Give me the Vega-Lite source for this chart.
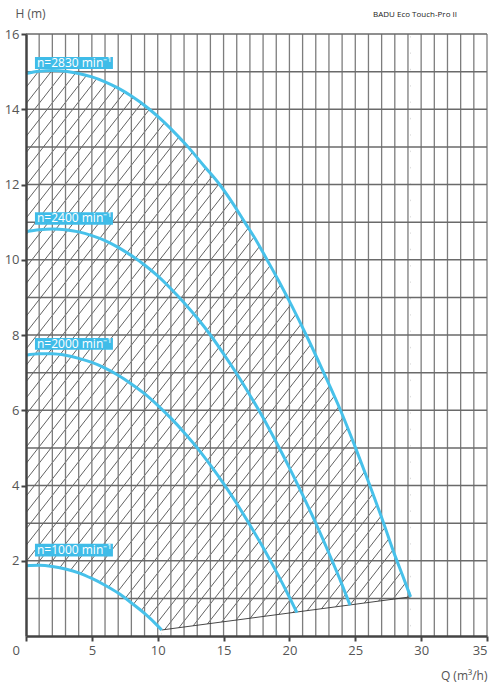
{
  "$schema": "https://vega.github.io/schema/vega-lite/v6.json",
  "description": "Pump curves BADU Eco Touch-Pro II, H over Q for four speeds with hatched operating range.",
  "autosize": "none",
  "width": 461,
  "height": 602,
  "padding": {"left": 26, "top": 34, "right": 9, "bottom": 51},
  "background": "white",
  "title": {
    "text": "BADU Eco Touch-Pro II",
    "anchor": "end",
    "font": "Open Sans",
    "fontSize": 8,
    "fontWeight": "normal",
    "color": "#222",
    "dx": -31,
    "offset": 0,
    "dy": 12
  },
  "config": {"view": {"stroke": null}},
  "datasets": {
    "curves": [
      {"speed": "2830", "q": 0, "h": 14.95}, {"speed": "2830", "q": 1, "h": 15.01}, {"speed": "2830", "q": 2, "h": 15.03},
      {"speed": "2830", "q": 3, "h": 15.01}, {"speed": "2830", "q": 4, "h": 14.95}, {"speed": "2830", "q": 5, "h": 14.86},
      {"speed": "2830", "q": 6, "h": 14.73}, {"speed": "2830", "q": 7, "h": 14.56}, {"speed": "2830", "q": 8, "h": 14.35},
      {"speed": "2830", "q": 9.3, "h": 14.02}, {"speed": "2830", "q": 10.5, "h": 13.65}, {"speed": "2830", "q": 11.5, "h": 13.3},
      {"speed": "2830", "q": 12.3, "h": 13.0}, {"speed": "2830", "q": 13.5, "h": 12.5}, {"speed": "2830", "q": 14.7, "h": 12.0},
      {"speed": "2830", "q": 15.7, "h": 11.5}, {"speed": "2830", "q": 16.6, "h": 11.0}, {"speed": "2830", "q": 17.5, "h": 10.5},
      {"speed": "2830", "q": 18.3, "h": 10.0}, {"speed": "2830", "q": 19.2, "h": 9.43}, {"speed": "2830", "q": 20.2, "h": 8.76},
      {"speed": "2830", "q": 21.3, "h": 7.98}, {"speed": "2830", "q": 22.6, "h": 7.0}, {"speed": "2830", "q": 23.9, "h": 5.98},
      {"speed": "2830", "q": 25.0, "h": 5.02}, {"speed": "2830", "q": 26.0, "h": 4.1}, {"speed": "2830", "q": 27.0, "h": 3.15},
      {"speed": "2830", "q": 28.0, "h": 2.15}, {"speed": "2830", "q": 28.6, "h": 1.6}, {"speed": "2830", "q": 29.2, "h": 1.04},
      {"speed": "2400", "q": 0, "h": 10.75}, {"speed": "2400", "q": 1, "h": 10.8}, {"speed": "2400", "q": 2, "h": 10.82},
      {"speed": "2400", "q": 3, "h": 10.8}, {"speed": "2400", "q": 4, "h": 10.74}, {"speed": "2400", "q": 5, "h": 10.64},
      {"speed": "2400", "q": 6, "h": 10.51}, {"speed": "2400", "q": 7, "h": 10.33}, {"speed": "2400", "q": 8, "h": 10.11},
      {"speed": "2400", "q": 9, "h": 9.86}, {"speed": "2400", "q": 10, "h": 9.57}, {"speed": "2400", "q": 11, "h": 9.23},
      {"speed": "2400", "q": 12, "h": 8.86}, {"speed": "2400", "q": 13, "h": 8.45}, {"speed": "2400", "q": 14, "h": 8.0},
      {"speed": "2400", "q": 15, "h": 7.5}, {"speed": "2400", "q": 16, "h": 6.97}, {"speed": "2400", "q": 17, "h": 6.4},
      {"speed": "2400", "q": 18, "h": 5.8}, {"speed": "2400", "q": 19, "h": 5.15}, {"speed": "2400", "q": 20, "h": 4.47},
      {"speed": "2400", "q": 21, "h": 3.75}, {"speed": "2400", "q": 22, "h": 3.0}, {"speed": "2400", "q": 23, "h": 2.2},
      {"speed": "2400", "q": 24, "h": 1.36}, {"speed": "2400", "q": 24.6, "h": 0.82},
      {"speed": "2000", "q": 0, "h": 7.46}, {"speed": "2000", "q": 1, "h": 7.5}, {"speed": "2000", "q": 2, "h": 7.5},
      {"speed": "2000", "q": 3, "h": 7.46}, {"speed": "2000", "q": 4, "h": 7.38}, {"speed": "2000", "q": 5, "h": 7.27},
      {"speed": "2000", "q": 6, "h": 7.12}, {"speed": "2000", "q": 7, "h": 6.93}, {"speed": "2000", "q": 8, "h": 6.7},
      {"speed": "2000", "q": 9, "h": 6.44}, {"speed": "2000", "q": 10, "h": 6.13}, {"speed": "2000", "q": 11, "h": 5.79},
      {"speed": "2000", "q": 12, "h": 5.41}, {"speed": "2000", "q": 13, "h": 5.0}, {"speed": "2000", "q": 14, "h": 4.54},
      {"speed": "2000", "q": 15, "h": 4.05}, {"speed": "2000", "q": 16, "h": 3.52}, {"speed": "2000", "q": 17, "h": 2.95},
      {"speed": "2000", "q": 18, "h": 2.35}, {"speed": "2000", "q": 19, "h": 1.71}, {"speed": "2000", "q": 20, "h": 1.03},
      {"speed": "2000", "q": 20.57, "h": 0.62},
      {"speed": "1000", "q": 0, "h": 1.87}, {"speed": "1000", "q": 1, "h": 1.88}, {"speed": "1000", "q": 2, "h": 1.85},
      {"speed": "1000", "q": 3, "h": 1.78}, {"speed": "1000", "q": 4, "h": 1.68}, {"speed": "1000", "q": 5, "h": 1.53},
      {"speed": "1000", "q": 6, "h": 1.35}, {"speed": "1000", "q": 7, "h": 1.14}, {"speed": "1000", "q": 8, "h": 0.88},
      {"speed": "1000", "q": 9, "h": 0.6}, {"speed": "1000", "q": 10, "h": 0.27}, {"speed": "1000", "q": 10.3, "h": 0.16}
    ],
    "edge": [
      {"q": 10.3, "h": 0.16},
      {"q": 29.2, "h": 1.04}
    ],
    "labels": [
      {"text": "n=2830 min⁻¹", "q": 0.68, "q2": 6.6, "h": 15.07, "h2": 15.39, "hm": 15.23},
      {"text": "n=2400 min⁻¹", "q": 0.68, "q2": 6.6, "h": 10.93, "h2": 11.26, "hm": 11.1},
      {"text": "n=2000 min⁻¹", "q": 0.68, "q2": 6.6, "h": 7.61, "h2": 7.92, "hm": 7.77},
      {"text": "n=1000 min⁻¹", "q": 0.68, "q2": 6.6, "h": 2.11, "h2": 2.45, "hm": 2.28}
    ],
    "gridv": [
      {"q": 1, "h": 0, "q2": 1, "h2": 16}, {"q": 2, "h": 0, "q2": 2, "h2": 16}, {"q": 3, "h": 0, "q2": 3, "h2": 16},
      {"q": 4, "h": 0, "q2": 4, "h2": 16}, {"q": 5, "h": 0, "q2": 5, "h2": 16}, {"q": 6, "h": 0, "q2": 6, "h2": 16},
      {"q": 7, "h": 0, "q2": 7, "h2": 16}, {"q": 8, "h": 0, "q2": 8, "h2": 16}, {"q": 9, "h": 0, "q2": 9, "h2": 16},
      {"q": 10, "h": 0, "q2": 10, "h2": 16}, {"q": 11, "h": 0, "q2": 11, "h2": 16}, {"q": 12, "h": 0, "q2": 12, "h2": 16},
      {"q": 13, "h": 0, "q2": 13, "h2": 16}, {"q": 14, "h": 0, "q2": 14, "h2": 16}, {"q": 15, "h": 0, "q2": 15, "h2": 16},
      {"q": 16, "h": 0, "q2": 16, "h2": 16}, {"q": 17, "h": 0, "q2": 17, "h2": 16}, {"q": 18, "h": 0, "q2": 18, "h2": 16},
      {"q": 19, "h": 0, "q2": 19, "h2": 16}, {"q": 20, "h": 0, "q2": 20, "h2": 16}, {"q": 21, "h": 0, "q2": 21, "h2": 16},
      {"q": 22, "h": 0, "q2": 22, "h2": 16}, {"q": 23, "h": 0, "q2": 23, "h2": 16}, {"q": 24, "h": 0, "q2": 24, "h2": 16},
      {"q": 25, "h": 0, "q2": 25, "h2": 16}, {"q": 26, "h": 0, "q2": 26, "h2": 16}, {"q": 27, "h": 0, "q2": 27, "h2": 16},
      {"q": 28, "h": 0, "q2": 28, "h2": 16}, {"q": 29, "h": 0, "q2": 29, "h2": 16}, {"q": 30, "h": 0, "q2": 30, "h2": 16},
      {"q": 31, "h": 0, "q2": 31, "h2": 16}, {"q": 32, "h": 0, "q2": 32, "h2": 16}, {"q": 33, "h": 0, "q2": 33, "h2": 16},
      {"q": 34, "h": 0, "q2": 34, "h2": 16}, {"q": 35, "h": 0, "q2": 35, "h2": 16}
    ],
    "gridh": [
      {"q": 0, "h": 1, "q2": 35, "h2": 1}, {"q": 0, "h": 2, "q2": 35, "h2": 2}, {"q": 0, "h": 3, "q2": 35, "h2": 3},
      {"q": 0, "h": 4, "q2": 35, "h2": 4}, {"q": 0, "h": 5, "q2": 35, "h2": 5}, {"q": 0, "h": 6, "q2": 35, "h2": 6},
      {"q": 0, "h": 7, "q2": 35, "h2": 7}, {"q": 0, "h": 8, "q2": 35, "h2": 8}, {"q": 0, "h": 9, "q2": 35, "h2": 9},
      {"q": 0, "h": 10, "q2": 35, "h2": 10}, {"q": 0, "h": 11, "q2": 35, "h2": 11}, {"q": 0, "h": 12, "q2": 35, "h2": 12},
      {"q": 0, "h": 13, "q2": 35, "h2": 13}, {"q": 0, "h": 14, "q2": 35, "h2": 14}, {"q": 0, "h": 15, "q2": 35, "h2": 15},
      {"q": 0, "h": 16, "q2": 35, "h2": 16}
    ],
    "hatch": [
      {"q": -33.5, "h": 0, "q2": 2.2, "h2": 16}, {"q": -32.53, "h": 0, "q2": 3.17, "h2": 16}, {"q": -31.56, "h": 0, "q2": 4.14, "h2": 16},
      {"q": -30.59, "h": 0, "q2": 5.11, "h2": 16}, {"q": -29.62, "h": 0, "q2": 6.08, "h2": 16}, {"q": -28.65, "h": 0, "q2": 7.05, "h2": 16},
      {"q": -27.68, "h": 0, "q2": 8.02, "h2": 16}, {"q": -26.71, "h": 0, "q2": 8.99, "h2": 16}, {"q": -25.74, "h": 0, "q2": 9.96, "h2": 16},
      {"q": -24.77, "h": 0, "q2": 10.93, "h2": 16}, {"q": -23.8, "h": 0, "q2": 11.9, "h2": 16}, {"q": -22.83, "h": 0, "q2": 12.87, "h2": 16},
      {"q": -21.86, "h": 0, "q2": 13.84, "h2": 16}, {"q": -20.89, "h": 0, "q2": 14.81, "h2": 16}, {"q": -19.92, "h": 0, "q2": 15.78, "h2": 16},
      {"q": -18.95, "h": 0, "q2": 16.75, "h2": 16}, {"q": -17.98, "h": 0, "q2": 17.72, "h2": 16}, {"q": -17.01, "h": 0, "q2": 18.69, "h2": 16},
      {"q": -16.04, "h": 0, "q2": 19.66, "h2": 16}, {"q": -15.07, "h": 0, "q2": 20.63, "h2": 16}, {"q": -14.1, "h": 0, "q2": 21.6, "h2": 16},
      {"q": -13.13, "h": 0, "q2": 22.57, "h2": 16}, {"q": -12.16, "h": 0, "q2": 23.54, "h2": 16}, {"q": -11.19, "h": 0, "q2": 24.51, "h2": 16},
      {"q": -10.22, "h": 0, "q2": 25.48, "h2": 16}, {"q": -9.25, "h": 0, "q2": 26.45, "h2": 16}, {"q": -8.28, "h": 0, "q2": 27.42, "h2": 16},
      {"q": -7.31, "h": 0, "q2": 28.39, "h2": 16}, {"q": -6.34, "h": 0, "q2": 29.36, "h2": 16}, {"q": -5.37, "h": 0, "q2": 30.33, "h2": 16},
      {"q": -4.4, "h": 0, "q2": 31.3, "h2": 16}, {"q": -3.43, "h": 0, "q2": 32.27, "h2": 16}, {"q": -2.46, "h": 0, "q2": 33.24, "h2": 16},
      {"q": -1.49, "h": 0, "q2": 34.21, "h2": 16}, {"q": -0.52, "h": 0, "q2": 35.18, "h2": 16}, {"q": 0.45, "h": 0, "q2": 36.15, "h2": 16},
      {"q": 1.42, "h": 0, "q2": 37.12, "h2": 16}, {"q": 2.39, "h": 0, "q2": 38.09, "h2": 16}, {"q": 3.36, "h": 0, "q2": 39.06, "h2": 16},
      {"q": 4.33, "h": 0, "q2": 40.03, "h2": 16}, {"q": 5.3, "h": 0, "q2": 41.0, "h2": 16}, {"q": 6.27, "h": 0, "q2": 41.97, "h2": 16},
      {"q": 7.24, "h": 0, "q2": 42.94, "h2": 16}, {"q": 8.21, "h": 0, "q2": 43.91, "h2": 16}, {"q": 9.18, "h": 0, "q2": 44.88, "h2": 16},
      {"q": 10.15, "h": 0, "q2": 45.85, "h2": 16}, {"q": 11.12, "h": 0, "q2": 46.82, "h2": 16}, {"q": 12.09, "h": 0, "q2": 47.79, "h2": 16},
      {"q": 13.06, "h": 0, "q2": 48.76, "h2": 16}, {"q": 14.03, "h": 0, "q2": 49.73, "h2": 16}, {"q": 15.0, "h": 0, "q2": 50.7, "h2": 16},
      {"q": 15.97, "h": 0, "q2": 51.67, "h2": 16}, {"q": 16.94, "h": 0, "q2": 52.64, "h2": 16}, {"q": 17.91, "h": 0, "q2": 53.61, "h2": 16},
      {"q": 18.88, "h": 0, "q2": 54.58, "h2": 16}, {"q": 19.85, "h": 0, "q2": 55.55, "h2": 16}, {"q": 20.82, "h": 0, "q2": 56.52, "h2": 16},
      {"q": 21.79, "h": 0, "q2": 57.49, "h2": 16}, {"q": 22.76, "h": 0, "q2": 58.46, "h2": 16}, {"q": 23.73, "h": 0, "q2": 59.43, "h2": 16},
      {"q": 24.7, "h": 0, "q2": 60.4, "h2": 16}, {"q": 25.67, "h": 0, "q2": 61.37, "h2": 16}, {"q": 26.64, "h": 0, "q2": 62.34, "h2": 16},
      {"q": 27.61, "h": 0, "q2": 63.31, "h2": 16}, {"q": 28.58, "h": 0, "q2": 64.28, "h2": 16}
    ]
  },
  "encoding": {
    "x": {
      "field": "q",
      "type": "quantitative",
      "scale": {"domain": [0, 35], "nice": false, "zero": false},
      "axis": {
        "values": [0, 5, 10, 15, 20, 25, 30, 35],
        "grid": false,
        "zindex": 1,
        "domainColor": "#444",
        "domainWidth": 2.5,
        "tickColor": "#444",
        "tickWidth": 2,
        "tickSize": 5,
        "labelFont": "Open Sans",
        "labelFontSize": 13,
        "labelColor": "#555",
        "labelPadding": 3,
        "labelOffset": {"condition": {"test": "datum.value === 0", "value": -14}, "value": 0},
        "title": "Q (m³/h)",
        "titleFont": "Open Sans",
        "titleFontSize": 12,
        "titleFontWeight": "normal",
        "titleColor": "#555",
        "titleAngle": 0,
        "titleAlign": "right",
        "titleBaseline": "middle",
        "titleX": 461,
        "titleY": 39
      }
    },
    "y": {
      "field": "h",
      "type": "quantitative",
      "scale": {"domain": [0, 16], "nice": false, "zero": false},
      "axis": {
        "values": [2, 4, 6, 8, 10, 12, 14, 16],
        "grid": false,
        "zindex": 1,
        "domainColor": "#444",
        "domainWidth": 2.5,
        "tickColor": "#444",
        "tickWidth": 2,
        "tickSize": 5,
        "labelFont": "Open Sans",
        "labelFontSize": 13,
        "labelColor": "#555",
        "labelPadding": 2,
        "title": "H (m)",
        "titleFont": "Open Sans",
        "titleFontSize": 12,
        "titleFontWeight": "normal",
        "titleColor": "#555",
        "titleAngle": 0,
        "titleAlign": "left",
        "titleBaseline": "middle",
        "titleX": -11,
        "titleY": -21
      }
    }
  },
  "layer": [
    {
      "data": {"name": "hatch"},
      "mark": {"type": "rule", "clip": true, "stroke": "#3a3a3a", "strokeWidth": 0.8},
      "encoding": {"x2": {"field": "q2"}, "y2": {"field": "h2"}}
    },
    {
      "data": {"name": "curves"},
      "transform": [{"filter": "datum.speed == '2830'"}],
      "mark": {"type": "area", "fill": "white", "interpolate": "monotone"},
      "encoding": {"y2": {"datum": 16}}
    },
    {
      "data": {"name": "edge"},
      "transform": [{"filter": "datum.q > 20"}],
      "mark": {"type": "rect", "fill": "white"},
      "encoding": {"x2": {"datum": 35}, "y": {"datum": 0}, "y2": {"datum": 16}}
    },
    {
      "data": {"name": "curves"},
      "transform": [{"filter": "datum.speed == '1000'"}],
      "mark": {"type": "area", "fill": "white", "interpolate": "monotone"},
      "encoding": {"y2": {"datum": 0}}
    },
    {
      "data": {"name": "edge"},
      "mark": {"type": "area", "fill": "white"},
      "encoding": {"y2": {"datum": 0}}
    },
    {
      "data": {"name": "gridv"},
      "mark": {"type": "rule", "stroke": "#7d7d7d", "strokeWidth": 1.3},
      "encoding": {"x2": {"field": "q2"}, "y2": {"field": "h2"}}
    },
    {
      "data": {"name": "gridh"},
      "mark": {"type": "rule", "stroke": "#6a6a6a", "strokeWidth": 1.5},
      "encoding": {"x2": {"field": "q2"}, "y2": {"field": "h2"}}
    },
    {
      "data": {"name": "edge"},
      "mark": {"type": "line", "stroke": "#333", "strokeWidth": 0.9},
      "encoding": {}
    },
    {
      "data": {"name": "curves"},
      "mark": {"type": "line", "stroke": "#47c1ea", "strokeWidth": 3, "interpolate": "monotone"},
      "encoding": {"detail": {"field": "speed"}}
    },
    {
      "data": {"name": "labels"},
      "mark": {"type": "rect", "fill": "#3fbce8"},
      "encoding": {"x2": {"field": "q2"}, "y2": {"field": "h2"}}
    },
    {
      "data": {"name": "labels"},
      "mark": {"type": "text", "align": "left", "baseline": "middle", "dx": 2, "font": "Open Sans", "fontSize": 12, "color": "white"},
      "encoding": {"y": {"field": "hm"}, "text": {"field": "text"}}
    }
  ]
}
